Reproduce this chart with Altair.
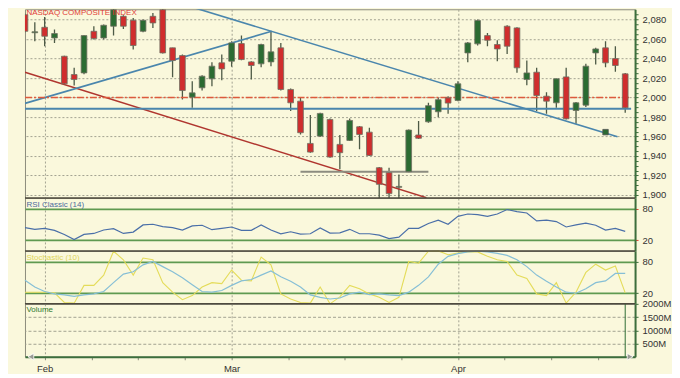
import altair as alt
import pandas as pd

# ---------------- data ----------------
day = list(range(62))
open_ = [2085.0, 2066.5, 2072.1, 2061.2, 2042.4, 2023.6, 2025.3, 2068.0, 2061.2, 2073.2,
         2083.4, 2079.3, 2068.0, 2083.4, 2090.2, 2051.0, 2043.1, 2000.4, 2010.0, 2019.2,
         2035.6, 2037.3, 2055.4, 2036.6, 2034.6, 2036.6, 2051.0, 2008.3, 1996.3, 1952.9,
         1960.4, 1977.5, 1951.9, 1956.0, 1970.0, 1964.5, 1928.0, 1922.9, 1907.8, 1923.9,
         1961.6, 1975.1, 1985.4, 1999.7, 1997.0, 2045.8, 2055.1, 2063.6, 2054.4, 2073.2,
         2071.5, 2018.5, 2026.0, 2001.4, 1994.6, 2021.2, 1986.7, 1992.2, 2045.8, 2051.0,
         2040.0, 2024.3]
high = [2086.0, 2077.3, 2082.7, 2069.8, 2043.0, 2030.5, 2064.0, 2073.2, 2074.9, 2091.0,
        2084.4, 2081.7, 2080.0, 2086.8, 2093.7, 2051.0, 2044.1, 2016.8, 2023.0, 2036.3,
        2044.1, 2057.8, 2063.6, 2037.3, 2055.1, 2068.0, 2056.1, 2009.3, 2000.4, 1982.0,
        1984.3, 1978.5, 1961.5, 1978.5, 1970.7, 1969.0, 1928.7, 1928.0, 1921.0, 1967.3,
        1975.8, 1994.6, 1999.7, 2001.4, 2016.8, 2057.1, 2080.0, 2066.3, 2058.8, 2074.2,
        2072.1, 2038.0, 2030.5, 2005.5, 2019.5, 2030.5, 1995.3, 2034.6, 2051.0, 2057.8,
        2052.7, 2025.3]
low = [2067.0, 2057.8, 2052.7, 2056.1, 2013.4, 2012.4, 2024.0, 2059.5, 2059.5, 2063.6,
       2070.4, 2049.3, 2067.0, 2071.5, 2045.2, 2020.9, 1997.9, 1989.5, 2007.2, 2011.7,
       2017.8, 2031.5, 2038.3, 2018.5, 2031.2, 2032.2, 2007.2, 1986.1, 1962.1, 1943.4,
       1959.4, 1938.2, 1926.3, 1955.3, 1946.8, 1940.0, 1895.0, 1895.0, 1895.0, 1923.2,
       1957.5, 1974.1, 1979.9, 1983.3, 1996.3, 2036.3, 2053.4, 2052.7, 2037.3, 2044.8,
       2025.4, 2012.7, 1986.1, 1983.3, 1989.5, 1977.5, 1973.1, 1990.2, 2033.9, 2031.2,
       2026.4, 1984.3]
close = [2068.0, 2067.5, 2062.9, 2065.7, 2014.1, 2018.5, 2063.6, 2060.5, 2074.2, 2090.2,
         2073.2, 2053.4, 2079.3, 2076.6, 2045.8, 2038.0, 2007.2, 2004.8, 2021.9, 2032.2,
         2029.4, 2056.1, 2039.0, 2032.9, 2054.4, 2046.9, 2008.3, 1994.6, 1963.9, 1944.0,
         1983.7, 1938.9, 1943.4, 1976.5, 1962.1, 1940.6, 1910.9, 1901.4, 1908.8, 1966.6,
         1958.2, 1991.7, 1997.8, 1994.3, 2014.1, 2056.1, 2079.0, 2058.8, 2049.9, 2052.7,
         2030.5, 2025.3, 2002.1, 1996.3, 2019.2, 1978.2, 1994.6, 2032.2, 2049.9, 2035.6,
         2032.9, 1989.5]

rsi = [44.0, 40.8, 42.7, 38.8, 31.1, 21.4, 31.1, 33.0, 39.5, 42.0,
       33.0, 35.6, 49.1, 50.4, 45.9, 44.0, 39.5, 47.2, 48.5, 40.1,
       42.7, 45.2, 38.8, 38.8, 49.1, 39.5, 32.4, 36.2, 31.7, 32.4,
       43.3, 33.7, 34.0, 40.8, 32.4, 32.4, 29.8, 23.4, 26.0, 42.7,
       42.7, 51.7, 58.1, 50.4, 65.2, 69.7, 68.4, 65.2, 69.7, 78.1,
       74.2, 71.6, 56.8, 58.1, 55.5, 45.2, 49.1, 52.3, 48.5, 39.5,
       42.7, 36.9]
stoch_k = [22.0, 22.0, 22.0, 20.7, 2.6, 1.3, 34.9, 34.9, 54.3, 99.4,
           83.3, 54.3, 86.5, 83.3, 40.0, 22.0, 7.8, 15.5, 31.7, 40.0,
           38.1, 63.9, 44.6, 43.3, 88.4, 73.6, 18.8, 9.1, 2.6, 1.3,
           31.7, 0.0, 13.0, 34.9, 28.5, 18.8, 12.3, 2.6, 12.3, 80.0,
           76.8, 99.4, 100.0, 92.9, 96.2, 98.1, 98.1, 89.7, 83.3, 80.0,
           54.3, 47.8, 18.8, 15.5, 40.0, 1.3, 22.0, 59.4, 74.9, 63.9,
           71.6, 20.7]
stoch_d = [44.6, 31.7, 23.3, 18.8, 16.8, 14.2, 16.8, 18.8, 23.3, 40.0,
           56.2, 60.7, 73.6, 80.0, 70.3, 60.7, 49.1, 36.2, 23.3, 22.0,
           25.2, 34.9, 43.3, 45.9, 54.3, 62.0, 51.0, 42.6, 31.7, 16.8,
           12.3, 9.1, 11.0, 18.8, 22.0, 17.5, 18.8, 16.8, 15.5, 22.0,
           34.9, 51.0, 74.9, 89.7, 94.9, 98.1, 99.4, 98.1, 95.5, 91.6,
           83.3, 70.3, 54.3, 42.6, 31.7, 22.0, 20.0, 28.5, 40.0, 43.3,
           57.5, 57.5]

volume_day = [61]
volume_m = [2000]

# drawn trend lines (day index, price)
red_trend_day = [0, 40.8]
red_trend_price = [2026.0, 1897.2]
blue_up_day = [0, 25.07]
blue_up_price = [1994.0, 2068.0]
blue_down_day = [16.73, 60.22]
blue_down_price = [2093.6, 1959.7]
level_day = [0, 61.6]
red_level = 2000.0
blue_level = 1988.4
grey_day = [28, 41]
grey_level = 1923.9
marker_day = [59]
marker_price = [1964.5]

price_ticks = list(range(1900, 2086, 5))     # labelled every 20
osc_ticks = [20, 80]
volume_ticks = [500, 1000, 1500, 2000]
month_ticks = [2, 21, 44]
month_names = ["Feb", "Mar", "Apr"]
minor_ticks = [6.75, 11.5, 16.25, 26.75, 32.5, 38.25, 48.75, 53.5, 58.25]
arrow_day = [0.6, 61.5]
arrow_shape = ["triangle-left", "triangle-right"]

# ---------------- styling ----------------
BG = "#faf8dc"
FONT = "Liberation Sans"
GRID = "#a3a392"
AXIS_GREEN = "#3c6e3c"
SEP = "#4e4a3e"
W = 611
XS = alt.Scale(domain=[0, 62], nice=False, zero=False)

def xgrid_axis():
    return alt.Axis(values=month_ticks, tickCount=100, labels=False, ticks=False, domain=False,
                    title=None, grid=True, gridColor=GRID, gridDash=[2, 2])

candles = pd.DataFrame({"day": day, "open": open_, "high": high, "low": low, "close": close})
ind = pd.DataFrame({"day": day, "rsi": rsi, "k": stoch_k, "d": stoch_d})

# ---------------- price panel ----------------
price_axis = alt.Axis(
    orient="right", values=price_ticks, tickCount=100, title=None,
    labelExpr="datum.value % 20 == 0 ? format(datum.value, ',') : ''",
    labelOverlap=False, labelFontSize=9.5, labelColor="#333333", labelPadding=4,
    grid=True, gridColor=GRID, gridDash=[2, 2],
    gridOpacity={"condition": {"test": "datum.value % 20 == 0", "value": 1}, "value": 0},
    tickSize=3, tickColor=AXIS_GREEN, domainColor=AXIS_GREEN, domainWidth=2)
YP = alt.Scale(domain=[1896.9, 2090.6], nice=False, zero=False)

base = alt.Chart(candles)
wicks = base.mark_rule(color="#4d5a46", strokeWidth=1.3, clip=True).encode(
    x=alt.X("day:Q", scale=XS, axis=xgrid_axis()),
    y=alt.Y("low:Q", scale=YP, axis=price_axis),
    y2="high:Q")
bodies = base.transform_calculate(
    x0="datum.day - 0.29", x1="datum.day + 0.29"
).mark_rect(stroke="#707062", strokeWidth=0.8, clip=True).encode(
    x="x0:Q", x2="x1:Q", y="open:Q", y2="close:Q",
    color=alt.condition("datum.close >= datum.open", alt.value("#2b6b32"), alt.value("#d02d2d")))

def seg(days, prices, color, width=1.6, dash=None):
    d = pd.DataFrame({"day": days, "price": prices})
    kw = dict(color=color, strokeWidth=width, clip=True)
    if dash:
        kw["strokeDash"] = dash
    return alt.Chart(d).mark_line(**kw).encode(x="day:Q", y="price:Q")

l_red = seg(red_trend_day, red_trend_price, "#b0362f", 1.5)
l_up = seg(blue_up_day, blue_up_price, "#4a86ad", 1.6)
l_down = seg(blue_down_day, blue_down_price, "#4a86ad", 1.6)
l_r2000 = seg(level_day, [red_level, red_level], "#dd5a3c", 1.5, [7, 2, 2, 2])
l_b = seg(level_day, [blue_level, blue_level], "#4a86ad", 2)
l_grey = seg(grey_day, [grey_level, grey_level], "#8c8c80", 2)
marker = alt.Chart(pd.DataFrame({"day": marker_day, "price": marker_price})).mark_square(
    size=30, color="#2b6b32", stroke="#555", strokeWidth=0.8, opacity=1).encode(x="day:Q", y="price:Q")

def label(txt, color, y):
    return alt.Chart(pd.DataFrame({"t": [txt]})).mark_text(
        align="left", baseline="alphabetic", font=FONT, fontSize=8, color=color
    ).encode(text="t:N", x=alt.value(1.5), y=alt.value(y))

price = alt.layer(wicks, l_red, l_up, l_down, l_r2000, l_b, l_grey, bodies, marker,
                  label("NASDAQ COMPOSITE INDEX", "#e03a36", 5.5)).properties(width=W, height=189)

# ---------------- RSI panel ----------------
def osc_axis(tick_color):
    return alt.Axis(orient="right", values=osc_ticks, tickCount=100, title=None, labelFontSize=9.5,
                    labelOverlap=False, labelColor="#333333", labelPadding=4, grid=True,
                    gridColor="#5f9a50", gridWidth=1.8, tickSize=3, tickColor=tick_color,
                    domainColor=AXIS_GREEN, domainWidth=2)

def top_sep(top):
    return alt.Chart(pd.DataFrame({"a": [0]})).mark_rule(color=SEP, strokeWidth=1.5).encode(
        x=alt.datum(0), x2=alt.datum(62), y=alt.datum(top))

YO = alt.Scale(domain=[0, 100], nice=False, zero=False)
rsi_line = alt.Chart(ind).mark_line(color="#4a6fa8", strokeWidth=1.2).encode(
    x=alt.X("day:Q", scale=XS, axis=xgrid_axis()),
    y=alt.Y("rsi:Q", scale=YO, axis=osc_axis("#e04030")))
rsi_c = alt.layer(rsi_line, top_sep(100), label("RSI Classic (14)", "#4a6a9c", 8.7)).properties(width=W, height=53)

# ---------------- Stochastic panel ----------------
k_line = alt.Chart(ind).mark_line(color="#e4dc5a", strokeWidth=1.1).encode(
    x=alt.X("day:Q", scale=XS, axis=xgrid_axis()),
    y=alt.Y("k:Q", scale=YO, axis=osc_axis(AXIS_GREEN)))
d_line = alt.Chart(ind).mark_line(color="#86bfd6", strokeWidth=1.2).encode(x="day:Q", y="d:Q")
stoch_c = alt.layer(k_line, d_line, top_sep(100), label("Stochastic (10)", "#ddd55a", 9)).properties(width=W, height=53)

# ---------------- Volume panel ----------------
label_expr = " : ".join(f"datum.value == {t} ? '{m}'" for t, m in zip(month_ticks, month_names)) + " : ''"
bottom_axis = alt.Axis(
    values=sorted(month_ticks + minor_ticks), tickCount=100, labelExpr=label_expr, title=None,
    labelOverlap=False, labelFlush=False, labelFontSize=9.5, labelColor="#333333", labelPadding=4,
    grid=True, gridColor=GRID, gridDash=[2, 2],
    gridOpacity={"condition": {"test": f"indexof({month_ticks}, datum.value) >= 0", "value": 1}, "value": 0},
    tickSize=3, tickColor="#8a8a7a", domainColor=AXIS_GREEN, domainWidth=2)
vol_axis = alt.Axis(orient="right", values=volume_ticks, tickCount=100, title=None,
                    labelExpr="datum.value + 'M'", labelFontSize=9.5, labelColor="#333333",
                    labelOverlap=False, labelPadding=4, grid=True, gridColor=GRID, gridDash=[3, 2],
                    tickSize=3, tickColor=AXIS_GREEN, domainColor=AXIS_GREEN, domainWidth=2)
YV = alt.Scale(domain=[0, 2000], nice=False, zero=True)
vol_bar = alt.Chart(pd.DataFrame({"day": volume_day, "vol": volume_m})).mark_rule(
    color="#2f6e35", strokeWidth=1).encode(
    x=alt.X("day:Q", scale=XS, axis=bottom_axis),
    y=alt.Y("vol:Q", scale=YV, axis=vol_axis), y2=alt.datum(0))
arrows = alt.Chart(pd.DataFrame({"day": arrow_day, "shape": arrow_shape})).mark_point(
    filled=True, size=45, color="#9a9a94", stroke="#ffffff", strokeWidth=0.8, opacity=1).encode(
    x="day:Q", y=alt.datum(0),
    shape=alt.Shape("shape:N", scale=None, legend=None))
vol_c = alt.layer(vol_bar, top_sep(2000), arrows, label("Volume", "#2f7a2f", 8.5)).properties(width=W, height=53)

chart = alt.vconcat(price, rsi_c, stoch_c, vol_c, spacing=0, bounds="flush").properties(
    padding={"left": 14, "top": 0, "right": 0, "bottom": 0}, background=BG
).configure_view(stroke="#8c8c7c", fill=BG).configure_axis(labelFont=FONT)

chart.save("out.html", embed_options={"renderer": "svg", "actions": False})
